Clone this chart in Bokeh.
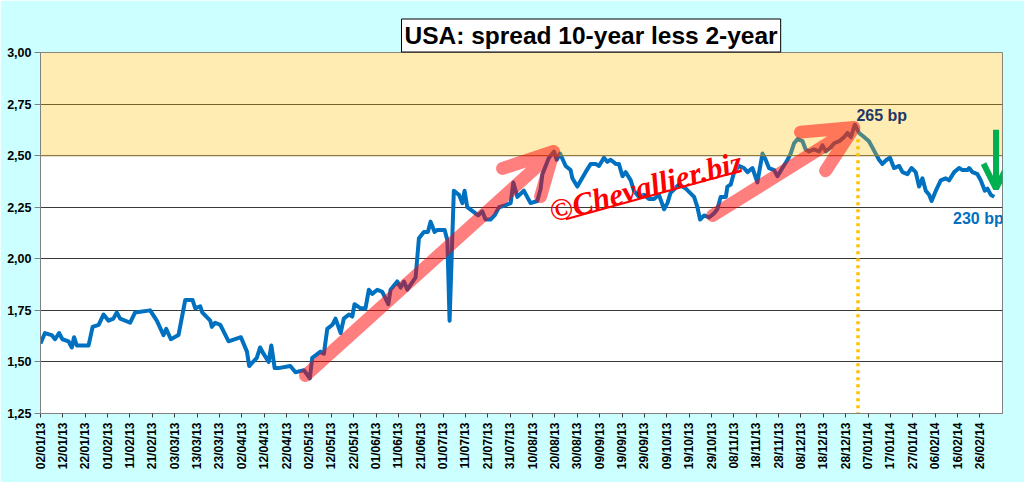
import math
from bokeh.plotting import figure
from bokeh.models import Range1d, FixedTicker, Label, Arrow, OpenHead
from bokeh.embed import file_html
from bokeh.resources import INLINE

# ---------------- data ----------------
# days elapsed since 02/01/2013
days = [0, 2, 5, 6.5, 8.3, 9.8, 12.5, 14, 15, 16.2, 21.5, 23.3, 26, 28.2, 30.4, 32.6, 34.1, 35.6,
        40.1, 42.3, 49, 52, 55, 56.2, 58.3, 61.7, 64.7, 68, 69.2, 71.4, 72.3, 75.9, 76.6, 78.1,
        80.4, 84.1, 89.6, 92.3, 93.3, 96.7, 98.2, 99.7, 102, 103.2, 104.7, 106.4, 111.7, 114,
        117.8, 120.4, 121.5, 125.2, 126.7, 128.2, 130.5, 131.9, 134.2, 135.6, 137.9, 139.4,
        140.4, 143.1, 145.3, 146.8, 148.3, 150.6, 152.8, 155.5, 156.5, 159.5, 161, 162.5, 164,
        167.7, 169.2, 171.4, 173.2, 174.4, 176.2, 177.4, 180.7, 181.9, 182.9, 184.8, 187.1,
        188.6, 189.6, 190.8, 194.5, 195.7, 197.5, 199, 201.2, 203, 205, 208, 210.2, 211.4,
        213.2, 216.1, 219.1, 222.1, 223.6, 224.4, 227.3, 229.6, 230.8, 232.3, 234.8, 237,
        237.8, 240, 243.7, 246, 248.2, 249.7, 251.9, 253.4, 254.9, 257.2, 258.6, 260.2, 261.6,
        263.9, 265.3, 267.6, 269.8, 272, 274.3, 276.5, 278.8, 280.3, 281.7, 285.5, 288.5,
        292.2, 293.7, 294.9, 296.7, 298.9, 301.1, 302.6, 304.1, 306.4, 307.1, 308.6, 310.1,
        312.3, 314.5, 316.1, 318.3, 320.5, 322.8, 324.2, 325.7, 328, 329.5, 331.7, 334, 335.4,
        336.9, 338.4, 340.7, 342.1, 343.6, 345.8, 348.1, 349.6, 351.1, 353.3, 354.8, 357.1,
        359.3, 360.8, 362.3, 364.1, 366, 368.2, 370.4, 371.9, 373.4, 374.9, 376.4, 378.3,
        379.8, 381.6, 383.9, 385.4, 387.6, 389.4, 391.3, 392.8, 394.3, 395.8, 397.3, 398.4,
        400.3, 402.5, 404.7, 406.2, 408.5, 410.7, 412.2, 414.5, 415.2, 416.7, 418.9, 420.4,
        422.2, 423.4, 424.9, 426.4]
spread = [1.59, 1.64, 1.63, 1.61, 1.64, 1.61, 1.60, 1.57, 1.62, 1.58, 1.58, 1.67, 1.68, 1.73, 1.70, 1.71, 1.74, 1.71,
          1.69, 1.74, 1.75, 1.70, 1.63, 1.66, 1.61, 1.63, 1.80, 1.80, 1.76, 1.77, 1.74, 1.70, 1.67, 1.69,
          1.68, 1.60, 1.62, 1.55, 1.48, 1.52, 1.57, 1.54, 1.50, 1.58, 1.47, 1.47, 1.48, 1.45,
          1.46, 1.42, 1.52, 1.55, 1.54, 1.66, 1.68, 1.71, 1.64, 1.71, 1.73, 1.72,
          1.78, 1.76, 1.76, 1.85, 1.83, 1.85, 1.84, 1.78, 1.85, 1.89, 1.86, 1.89, 1.85,
          1.91, 2.10, 2.13, 2.13, 2.18, 2.13, 2.14, 2.14, 2.09, 1.70, 2.33, 2.31,
          2.27, 2.33, 2.25, 2.22, 2.21, 2.23, 2.19, 2.19, 2.21, 2.25, 2.26, 2.27, 2.37,
          2.30, 2.33, 2.27, 2.28, 2.34, 2.41, 2.49, 2.52, 2.48, 2.51, 2.45, 2.43,
          2.39, 2.35, 2.42, 2.46, 2.46, 2.45, 2.49, 2.47, 2.48, 2.46, 2.46, 2.40, 2.42,
          2.38, 2.33, 2.30, 2.31, 2.29, 2.29, 2.31, 2.24, 2.27, 2.32, 2.36, 2.34,
          2.30, 2.25, 2.19, 2.21, 2.20, 2.22, 2.24, 2.30, 2.30, 2.35, 2.36, 2.42,
          2.45, 2.44, 2.42, 2.44, 2.37, 2.51, 2.48, 2.44, 2.43, 2.40, 2.44, 2.48, 2.51,
          2.56, 2.58, 2.57, 2.53, 2.52, 2.53, 2.52, 2.55, 2.52, 2.54, 2.56, 2.57,
          2.59, 2.61, 2.59, 2.65, 2.61, 2.59, 2.57, 2.54, 2.51, 2.48, 2.46, 2.48,
          2.49, 2.44, 2.45, 2.42, 2.41, 2.44, 2.42, 2.35, 2.39, 2.33, 2.31, 2.28,
          2.33, 2.38, 2.39, 2.38, 2.42, 2.44, 2.43, 2.43, 2.44, 2.42, 2.41, 2.38,
          2.33, 2.34, 2.31, 2.30]

x_tick_labels = ["02/01/13", "12/01/13", "22/01/13", "01/02/13", "11/02/13", "21/02/13", "03/03/13",
                 "13/03/13", "23/03/13", "02/04/13", "12/04/13", "22/04/13", "02/05/13", "12/05/13",
                 "22/05/13", "01/06/13", "11/06/13", "21/06/13", "01/07/13", "11/07/13", "21/07/13",
                 "31/07/13", "10/08/13", "20/08/13", "30/08/13", "09/09/13", "19/09/13", "29/09/13",
                 "09/10/13", "19/10/13", "29/10/13", "08/11/13", "18/11/13", "28/11/13", "08/12/13",
                 "18/12/13", "28/12/13", "07/01/14", "17/01/14", "27/01/14", "06/02/14", "16/02/14",
                 "26/02/14"]
y_ticks = [1.25, 1.50, 1.75, 2.00, 2.25, 2.50, 2.75, 3.00]
y_tick_labels = ["1,25", "1,50", "1,75", "2,00", "2,25", "2,50", "2,75", "3,00"]

zone_low, zone_high = 2.50, 3.00

# annotation arrows (day, value)
arrow1_x = [118.5, 229.4, 206.6, 229.4, 223.6]
arrow1_y = [1.434, 2.520, 2.438, 2.520, 2.302]
arrow2_x = [300.5, 363.6, 339.8, 363.6, 351.0]
arrow2_y = [2.210, 2.636, 2.614, 2.636, 2.427]
green_arrow = dict(x_start=427.2, y_start=2.625, x_end=427.2, y_end=2.34)
peak_day = 365.5
peak_top = 2.58

title_text = "USA: spread 10-year less 2-year"

FONT = "Liberation Sans"

# ---------------- figure ----------------
p = figure(width=1024, height=482, output_backend="svg", toolbar_location=None,
           x_range=Range1d(0, 430.1), y_range=Range1d(1.25, 3.0),
           min_border_left=40, min_border_right=22, min_border_top=52, min_border_bottom=69)
p.border_fill_color = "#CCFFFF"
p.background_fill_color = "white"
p.outline_line_color = "#808080"
p.outline_line_width = 1

# title box
p.title.text = title_text
p.title.align = "left"
p.title.offset = 361
p.title.standoff = 1
p.title.padding = 3
p.title.text_font = FONT
p.title.text_font_style = "bold"
p.title.text_font_size = "24.5px"
p.title.text_color = "black"
p.title.background_fill_color = "white"
p.title.border_line_color = "black"
p.title.border_line_width = 1

p.xgrid.visible = False
p.ygrid.ticker = FixedTicker(ticks=y_ticks)
p.ygrid.grid_line_color = "#3A3A3A"
p.ygrid.grid_line_width = 1.2

# y axis
p.yaxis.ticker = FixedTicker(ticks=y_ticks)
p.yaxis.major_label_overrides = {t: l for t, l in zip(y_ticks, y_tick_labels)}
p.yaxis.axis_line_color = "#808080"
p.yaxis.major_tick_line_color = "#808080"
p.yaxis.major_tick_out = 6
p.yaxis.major_tick_in = 0
p.yaxis.minor_tick_line_color = None
p.yaxis.major_label_standoff = 3
p.yaxis.major_label_text_font = FONT
p.yaxis.major_label_text_font_style = "bold"
p.yaxis.major_label_text_font_size = "12.5px"
p.yaxis.major_label_text_color = "black"

# x axis
x_ticks = [10 * i for i in range(len(x_tick_labels))]
p.xaxis.ticker = FixedTicker(ticks=x_ticks)
p.xaxis.major_label_overrides = {t: l for t, l in zip(x_ticks, x_tick_labels)}
p.xaxis.major_label_orientation = math.pi / 2
p.xaxis.axis_line_color = "#808080"
p.xaxis.major_tick_line_color = "#404040"
p.xaxis.major_tick_out = 4
p.xaxis.major_tick_in = 0
p.xaxis.minor_tick_line_color = None
p.xaxis.major_label_standoff = 5
p.xaxis.major_label_text_font = FONT
p.xaxis.major_label_text_font_style = "bold"
p.xaxis.major_label_text_font_size = "12px"
p.xaxis.major_label_text_color = "black"

# main series
p.line(days, spread, line_color="#0070C0", line_width=4, line_join="round")

# orange zone above 2.50 (translucent, drawn over the line)
p.quad(left=[0], right=[430.1], bottom=[zone_low], top=[zone_high],
       fill_color="#FFC000", fill_alpha=0.3, line_color=None)
p.line([0, 430.1], [zone_low, zone_low], line_color="#8C7A40", line_width=1.2)

# dotted peak line
p.line([peak_day, peak_day], [peak_top, 1.25], line_color="#FFC000", line_width=3.5, line_dash="3 4")

# pink translucent arrows
p.line(arrow1_x, arrow1_y, line_color="#FF0000", line_alpha=0.5, line_width=13,
       line_cap="round", line_join="round")
p.line(arrow2_x, arrow2_y, line_color="#FF0000", line_alpha=0.5, line_width=13,
       line_cap="round", line_join="round")

# green down arrow
p.add_layout(Arrow(**green_arrow, line_color="#00B050", line_width=6,
                   end=OpenHead(size=25, line_color="#00B050", line_width=6)))

# watermark
p.add_layout(Label(x=270.6, y=2.35, text="©Chevallier.biz", text_align="center",
                   text_baseline="middle", angle=0.26, text_color="#FF0000",
                   text_font="Liberation Serif", text_font_style="bold italic",
                   text_font_size="31px"))
p.line([234.8, 313.1], [2.192, 2.427], line_color="#FF0000", line_width=2)

# value labels
p.add_layout(Label(x=376.1, y=2.695, text="265 bp", text_align="center", text_baseline="middle",
                   text_color="#1F3864", text_font=FONT, text_font_style="bold",
                   text_font_size="16px"))
p.add_layout(Label(x=419.3, y=2.196, text="230 bp", text_align="center", text_baseline="middle",
                   text_color="#0070C0", text_font=FONT, text_font_style="bold",
                   text_font_size="16px"))

open("out.html", "w").write(file_html(p, INLINE))
